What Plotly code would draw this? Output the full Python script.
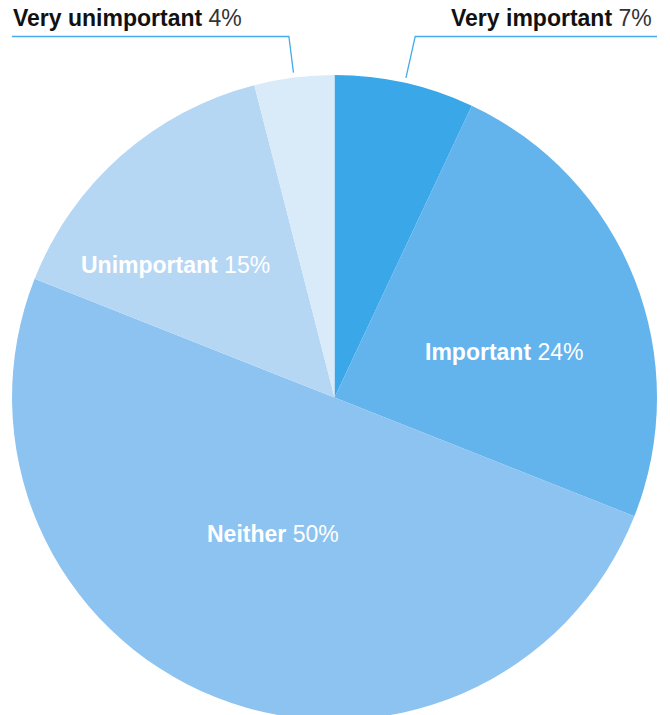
import math
import plotly.graph_objects as go

labels = ["Very important", "Important", "Neither", "Unimportant", "Very unimportant"]
values = [7, 24, 50, 15, 4]
colors = ["#39a7e8", "#63b3ec", "#8dc3f0", "#b5d7f4", "#d9eaf9"]
outside = [True, False, False, False, True]

# inside label placement (style): angle offset from slice mid (deg), radius fraction
label_angle_offset = [0, 6.6, 2.7, -8.9, 0]
label_radius_frac = [0, 0.546, 0.465, 0.642, 0]

W, H = 670, 720
ML, MR, MT, MB = 12, 13, 75, 0
pw, ph = W - ML - MR, H - MT - MB
R = min(pw, ph) / 2.0
cx_px = ML + pw / 2.0
cy_px = MT + ph / 2.0
FONT = "Liberation Sans, Arial, Helvetica, sans-serif"
FS = 23

def px_to_paper(x, y):
    return (x - ML) / pw, (H - MB - y) / ph

fig = go.Figure(go.Pie(
    labels=labels,
    values=values,
    sort=False,
    direction="clockwise",
    rotation=0,
    marker=dict(colors=colors, line=dict(width=0)),
    textinfo="none",
    hoverinfo="label+percent",
    showlegend=False,
    domain=dict(x=[0, 1], y=[0, 1]),
))

total = float(sum(values))
cum = 0.0
line_y = 36.5
label_y = 18
shapes = []
annotations = []
for i, (lab, v, o) in enumerate(zip(labels, values, outside)):
    mid = (cum + v / 2.0) / total * 2 * math.pi
    cum += v
    pct = f"{v/total:.0%}"
    if not o:
        a = mid + math.radians(label_angle_offset[i])
        d = R * label_radius_frac[i]
        lx = cx_px + d * math.sin(a)
        ly = cy_px - d * math.cos(a)
        pa = px_to_paper(lx, ly)
        annotations.append(dict(xref="paper", yref="paper", x=pa[0], y=pa[1],
                                xanchor="center", yanchor="middle", showarrow=False,
                                text=f"<b>{lab}</b> {pct}",
                                font=dict(color="white", size=FS, family=FONT)))
        continue
    s, c = math.sin(mid), math.cos(mid)
    r0 = R + 5
    x0 = cx_px + r0 * s
    y0 = cy_px - r0 * c
    t = (y0 - line_y) / c
    x1 = x0 + t * s
    if s >= 0:
        x2 = W - 13
        anchor = "right"
        ax = W - 16
    else:
        x2 = 12
        anchor = "left"
        ax = 11
    p0 = px_to_paper(x0, y0)
    p1 = px_to_paper(x1, line_y)
    p2 = px_to_paper(x2, line_y)
    shapes.append(dict(type="path", xref="paper", yref="paper",
                       path=f"M {p0[0]},{p0[1]} L {p1[0]},{p1[1]} L {p2[0]},{p2[1]}",
                       line=dict(color="#45abe9", width=1.3)))
    pa = px_to_paper(ax, label_y)
    annotations.append(dict(xref="paper", yref="paper", x=pa[0], y=pa[1],
                            xanchor=anchor, yanchor="middle", showarrow=False,
                            text=f"<b>{lab}</b> <span style='color:#333333'>{pct}</span>",
                            font=dict(color="#111111", size=FS, family=FONT)))

fig.update_layout(
    width=W, height=H,
    margin=dict(l=ML, r=MR, t=MT, b=MB, pad=0),
    paper_bgcolor="white",
    plot_bgcolor="white",
    shapes=shapes,
    annotations=annotations,
)

fig.write_html("out.html",
               config={"displayModeBar": False},
               post_script="document.body.style.margin='0';document.body.style.overflow='hidden';document.documentElement.style.overflow='hidden';")
